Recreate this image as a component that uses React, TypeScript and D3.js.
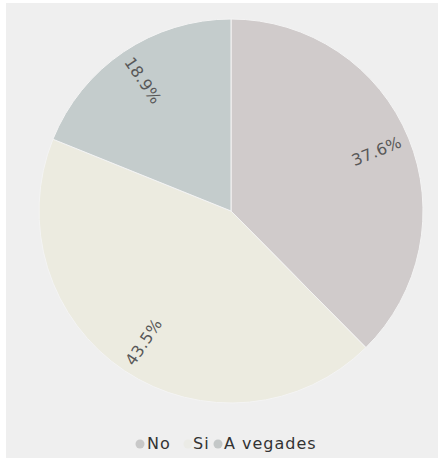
import React from "react";
import * as d3 from "d3";

const categories = ["No", "Si", "A vegades"];
const values = [37.6, 43.5, 18.9];
const labels = ["37.6%", "43.5%", "18.9%"];
const colors = ["#d0cbcb", "#ecebe0", "#c4cccc"];
const legendDots = ["#c8c8c8", "#ebebe6", "#c4c8c8"];

const W = 438, H = 459;
const cx = 231, cy = 211, R = 192;

export default function App() {
  const pie = d3.pie<number>().sort(null).value((d) => d)(values);
  const arc = d3.arc<d3.PieArcDatum<number>>().innerRadius(0).outerRadius(R);
  const font = "'DejaVu Sans', sans-serif";
  const dotX = [140, 188, 218];
  const textX = [147, 193, 224];
  return (
    <svg width={W} height={H} style={{ position: "absolute", left: 0, top: 0 }}>
      <rect x={0} y={0} width={W} height={H} fill="#ffffff" />
      <rect x={6} y={3} width={W - 6} height={H - 4} fill="#efefef" />
      <g transform={`translate(${cx},${cy})`}>
        {pie.map((p, i) => (
          <path key={i} d={arc(p) || ""} fill={colors[i]} stroke="#f4f4f4" strokeWidth={1} />
        ))}
        {pie.map((p, i) => {
          const mid = (p.startAngle + p.endAngle) / 2;
          const deg = (mid * 180) / Math.PI;
          const rr = R * 0.82;
          const x = Math.sin(mid) * rr;
          const y = -Math.cos(mid) * rr;
          let rot = deg - 90;
          if (rot > 90) rot -= 180;
          if (rot > 90) rot -= 180;
          return (
            <text key={i} x={0} y={0} transform={`translate(${x},${y}) rotate(${rot})`}
              textAnchor="middle" dominantBaseline="central" fontFamily={font}
              fontSize={16} letterSpacing={0.3} fill="#585858">
              {labels[i]}
            </text>
          );
        })}
      </g>
      <g>
        {categories.map((c, i) => (
          <g key={c}>
            <circle cx={dotX[i]} cy={444} r={4.5} fill={legendDots[i]} />
            <text x={textX[i]} y={449} fontFamily={font} letterSpacing={1}
              fontSize={16} fill="#333">{c}</text>
          </g>
        ))}
      </g>
    </svg>
  );
}
